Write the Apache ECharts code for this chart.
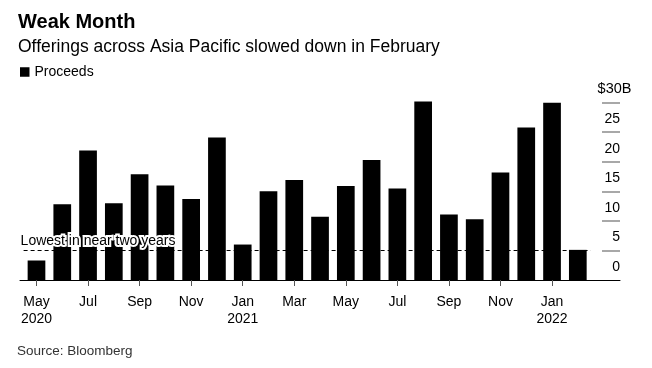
<!DOCTYPE html>
<html>
<head>
<meta charset="utf-8">
<script src="https://cdn.jsdelivr.net/npm/echarts@6/dist/echarts.min.js"></script>
<style>
  html, body { margin: 0; padding: 0; background: #fff; }
  #chart { width: 652px; height: 368px; }
</style>
</head>
<body>
<div id="chart"></div>
<script>
// ---- Data ----
const categories = [
  'May\n2020', 'Jun', 'Jul', 'Aug', 'Sep', 'Oct', 'Nov', 'Dec',
  'Jan\n2021', 'Feb', 'Mar', 'Apr', 'May', 'Jun', 'Jul', 'Aug',
  'Sep', 'Oct', 'Nov', 'Dec', 'Jan\n2022', 'Feb'
];
const proceeds = [
  3.3, 12.8, 21.9, 13.0, 17.9, 16.0, 13.7, 24.1,
  6.0, 15.0, 16.9, 10.7, 15.9, 20.3, 15.5, 30.2,
  11.1, 10.3, 18.2, 25.8, 30.0, 5.1
];
const yTickValues = [5, 10, 15, 20, 25, 30];
const yLabelValues = [0, 5, 10, 15, 20, 25];
const topLabel = '$30B';
const lowestLevel = 5.1;
const lowestLabel = 'Lowest in near two years';
const titleText = 'Weak Month';
const subtitleText = 'Offerings across Asia Pacific slowed down in February';
const seriesName = 'Proceeds';
const sourceText = 'Source: Bloomberg';

const FONT = '"Liberation Sans", Arial, Helvetica, sans-serif';
const chart = echarts.init(document.getElementById('chart'), null, { renderer: 'canvas' });

const option = {
  animation: false,
  backgroundColor: '#fff',
  textStyle: { fontFamily: FONT, color: '#000' },
  title: [
    { text: titleText, left: 18, top: 11, padding: 0,
      textStyle: { fontFamily: FONT, fontSize: 20, fontWeight: 'bold', color: '#000', lineHeight: 22 } },
    { text: subtitleText, left: 18, top: 37, padding: 0,
      textStyle: { fontFamily: FONT, fontSize: 17.5, fontWeight: 'normal', color: '#000', lineHeight: 20 } },
    { text: sourceText, left: 17, top: 343, padding: 0,
      textStyle: { fontFamily: FONT, fontSize: 13.5, fontWeight: 'normal', color: '#333', lineHeight: 16 } }
  ],
  legend: {
    left: 20, top: 65, padding: 0,
    icon: 'rect', itemWidth: 9.5, itemHeight: 9.5,
    textStyle: { fontFamily: FONT, fontSize: 14, color: '#000' },
    data: [{ name: seriesName, itemStyle: { color: '#000' } }]
  },
  grid: [
    { left: 23.6, right: 61.3, top: 102.7, bottom: 88 },
    { left: 20, right: 32, top: 102.7, bottom: 88 }
  ],
  xAxis: [
    {
      gridIndex: 0, type: 'category', data: categories,
      axisLine: { show: false },
      axisTick: { show: true, alignWithLabel: true, interval: 1, length: 6,
                  lineStyle: { color: '#555', width: 1 } },
      axisLabel: { interval: 1, margin: 13, fontFamily: FONT, fontSize: 14, color: '#000', lineHeight: 17.6 },
      splitLine: { show: false }
    },
    {
      gridIndex: 1, type: 'value', min: 0, max: 1,
      axisLine: { show: true, onZero: false, lineStyle: { color: '#000', width: 1 } },
      axisTick: { show: false }, axisLabel: { show: false }, splitLine: { show: false }
    }
  ],
  yAxis: [
    {
      gridIndex: 0, type: 'value', min: 0, max: 30, interval: 5, show: false,
      axisLine: { onZero: false },
      splitLine: { show: false }
    },
    {
      gridIndex: 1, type: 'value', min: 0, max: 30, interval: 5, position: 'right',
      axisLine: { show: false, onZero: false },
      axisTick: { show: true, inside: true, length: 18, customValues: yTickValues,
                  lineStyle: { color: '#8c8c8c', width: 1.5 } },
      axisLabel: { show: true, inside: true, margin: 0, align: 'right', verticalAlign: 'bottom',
                   lineHeight: 26, customValues: yLabelValues,
                   fontFamily: FONT, fontSize: 14, color: '#000' },
      splitLine: { show: false },
      name: topLabel, nameLocation: 'end', nameGap: 13.4,
      nameTextStyle: { fontFamily: FONT, fontSize: 14.5, color: '#000', align: 'center',
                       verticalAlign: 'middle', padding: [0, 11, 0, 0] }
    }
  ],
  series: [
    {
      name: seriesName, type: 'bar', xAxisIndex: 0, yAxisIndex: 0,
      data: proceeds, barWidth: 17.7, clip: false,
      itemStyle: { color: '#000' },
      markLine: {
        silent: true, symbol: 'none',
        lineStyle: { color: '#000', type: [4, 3], width: 1.2 },
        label: {
          show: true, position: 'insideStartTop', formatter: lowestLabel, distance: [-3, 2],
          fontFamily: FONT, fontSize: 14, color: '#000',
          textBorderColor: '#fff', textBorderWidth: 4
        },
        data: [{ yAxis: lowestLevel }]
      },
      z: 2
    }
  ]
};
chart.setOption(option);
</script>
</body>
</html>
